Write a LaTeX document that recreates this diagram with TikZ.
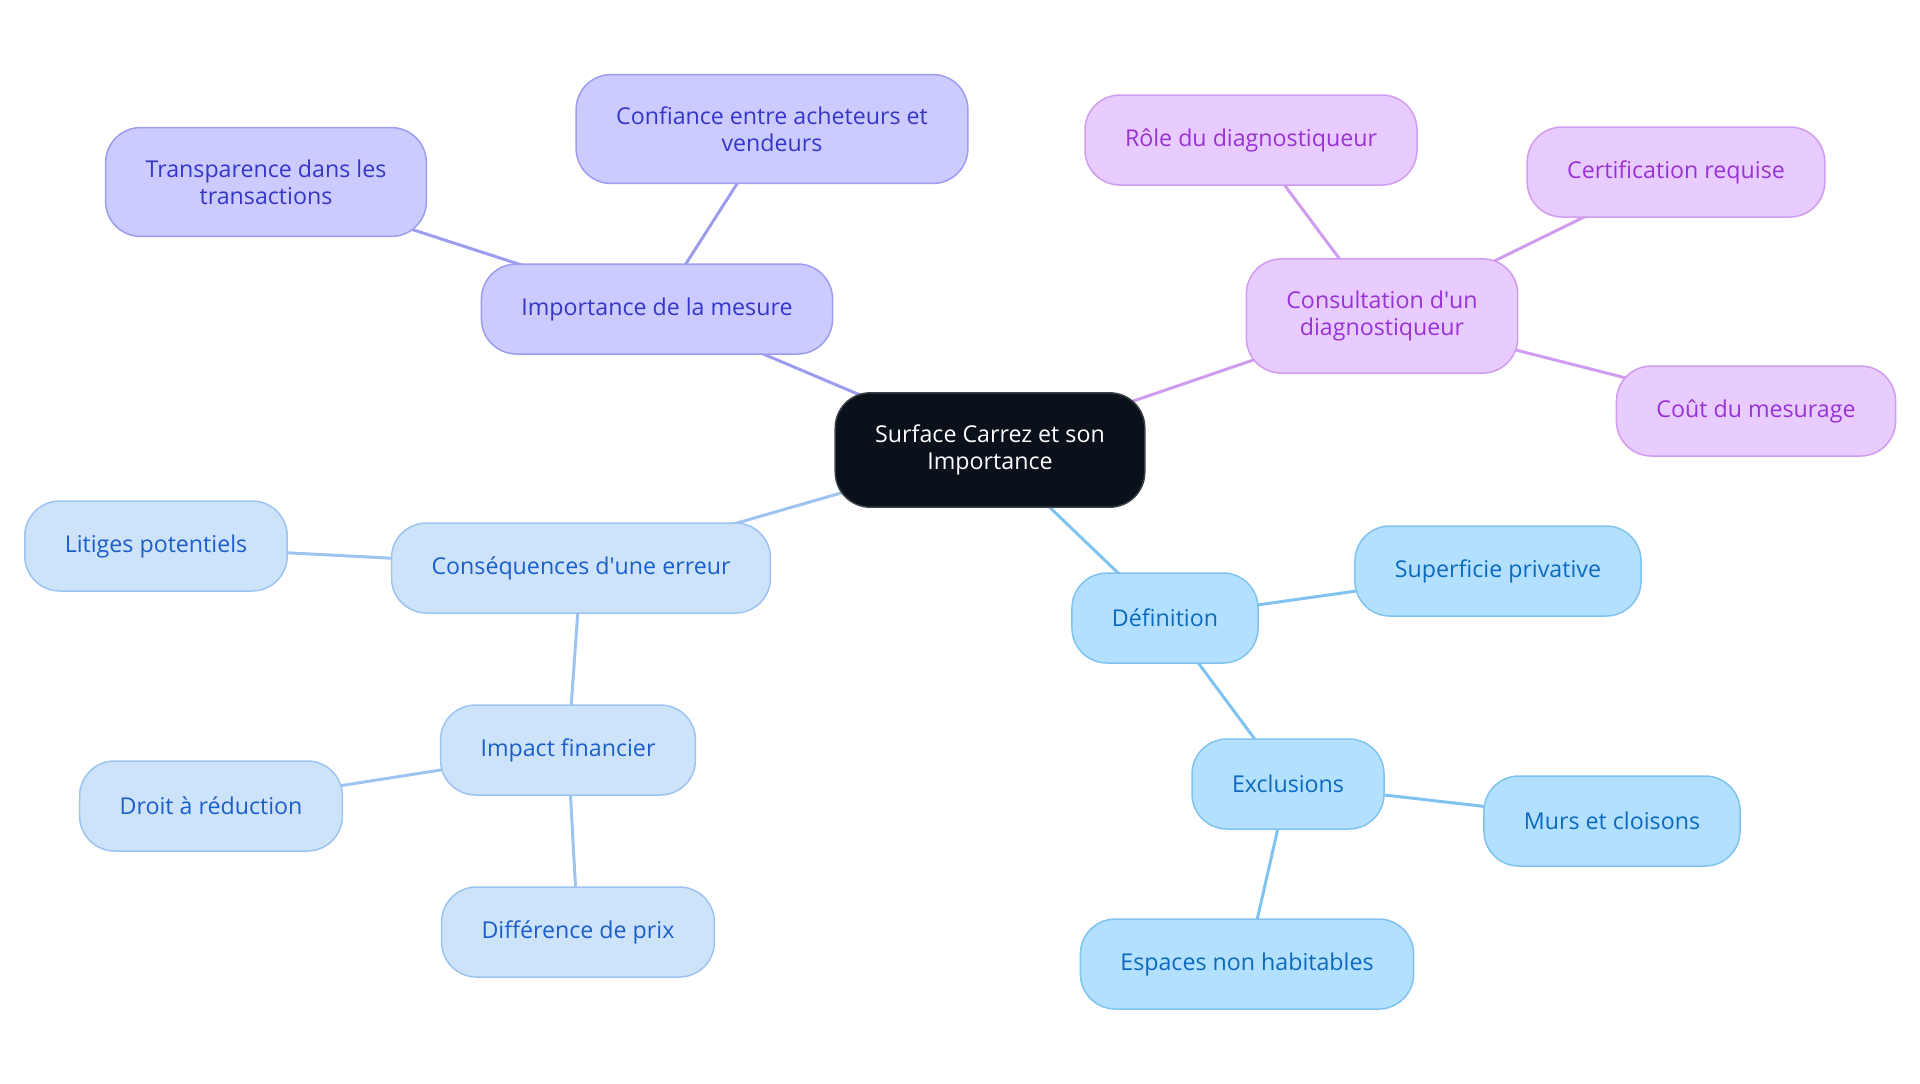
\documentclass[tikz,border=0pt]{standalone}
\usepackage{fontspec}
\setmainfont{Open Sans}
\usetikzlibrary{backgrounds}

% group colours
\definecolor{rootfill}{HTML}{0B111A}
\definecolor{rootline}{HTML}{3A3F47}
\definecolor{mesfill}{HTML}{CBCBFF}
\definecolor{mesline}{HTML}{9D9DF0}
\definecolor{mestext}{HTML}{3636C8}
\definecolor{diagfill}{HTML}{E8CBFF}
\definecolor{diagline}{HTML}{CF9CF0}
\definecolor{diagtext}{HTML}{9933D6}
\definecolor{errfill}{HTML}{CDE3FA}
\definecolor{errline}{HTML}{9DC4F0}
\definecolor{errtext}{HTML}{1C5ECC}
\definecolor{deffill}{HTML}{B3E0FF}
\definecolor{defline}{HTML}{80C3F0}
\definecolor{deftext}{HTML}{0B6ABD}

\begin{document}
\begin{tikzpicture}[x=0.5pt,y=-0.5pt,
  topic/.style={rectangle, rounded corners=17.5pt, minimum height=45pt,
    inner xsep=20pt, inner ysep=16pt, align=center, line width=0.75pt,
    font=\fontsize{11.6}{13.5}\selectfont},
  root/.style={topic, fill=rootfill, draw=rootline, text=white},
  mes/.style={topic, fill=mesfill, draw=mesline, text=mestext},
  diag/.style={topic, fill=diagfill, draw=diagline, text=diagtext},
  err/.style={topic, fill=errfill, draw=errline, text=errtext},
  def/.style={topic, fill=deffill, draw=defline, text=deftext},
  link/.style={line width=1.5pt}]
\useasboundingbox (0,0) rectangle (1920,1083);

% Central node
\node[root] (carrez) at (990,450) {Surface Carrez et son\\Importance};

% Importance de la mesure
\node[mes] (mesure) at (657,309) {Importance de la mesure};
\node[mes] (confiance) at (772,129) {Confiance entre acheteurs et\\vendeurs};
\node[mes] (transp) at (266,182) {Transparence dans les\\transactions};

% Consultation
\node[diag] (consult) at (1382,316) {Consultation d\textquotesingle un\\diagnostiqueur};
\node[diag] (role) at (1251,140) {Rôle du diagnostiqueur};
\node[diag] (certif) at (1676,172) {Certification requise};
\node[diag] (cout) at (1756,411) {Coût du mesurage};

% Consequences
\node[err] (erreur) at (581,568) {Conséquences d\textquotesingle une erreur};
\node[err] (litiges) at (156,546) {Litiges potentiels};
\node[err] (impact) at (568,750) {Impact financier};
\node[err] (droit) at (211,806) {Droit à réduction};
\node[err] (prix) at (578,932) {Différence de prix};

% Definition
\node[def] (defin) at (1165,618) {Définition};
\node[def] (superf) at (1498,571) {Superficie privative};
\node[def] (exclu) at (1288,784) {Exclusions};
\node[def] (murs) at (1612,821) {Murs et cloisons};
\node[def] (espaces) at (1247,964) {Espaces non habitables};

% Links
\begin{pgfonlayer}{background}
\draw[link, mesline] (carrez.center) -- (mesure.center);
\draw[link, mesline] (mesure.center) -- (confiance.center);
\draw[link, mesline] (mesure.center) -- (transp.center);
\draw[link, diagline] (carrez.center) -- (consult.center);
\draw[link, diagline] (consult.center) -- (role.center);
\draw[link, diagline] (consult.center) -- (certif.center);
\draw[link, diagline] (consult.center) -- (cout.center);
\draw[link, errline] (carrez.center) -- (erreur.center);
\draw[link, errline] (erreur.center) -- (litiges.center);
\draw[link, errline] (erreur.center) -- (impact.center);
\draw[link, errline] (impact.center) -- (droit.center);
\draw[link, errline] (impact.center) -- (prix.center);
\draw[link, defline] (carrez.center) -- (defin.center);
\draw[link, defline] (defin.center) -- (superf.center);
\draw[link, defline] (defin.center) -- (exclu.center);
\draw[link, defline] (exclu.center) -- (murs.center);
\draw[link, defline] (exclu.center) -- (espaces.center);
\end{pgfonlayer}
\end{tikzpicture}
\end{document}
